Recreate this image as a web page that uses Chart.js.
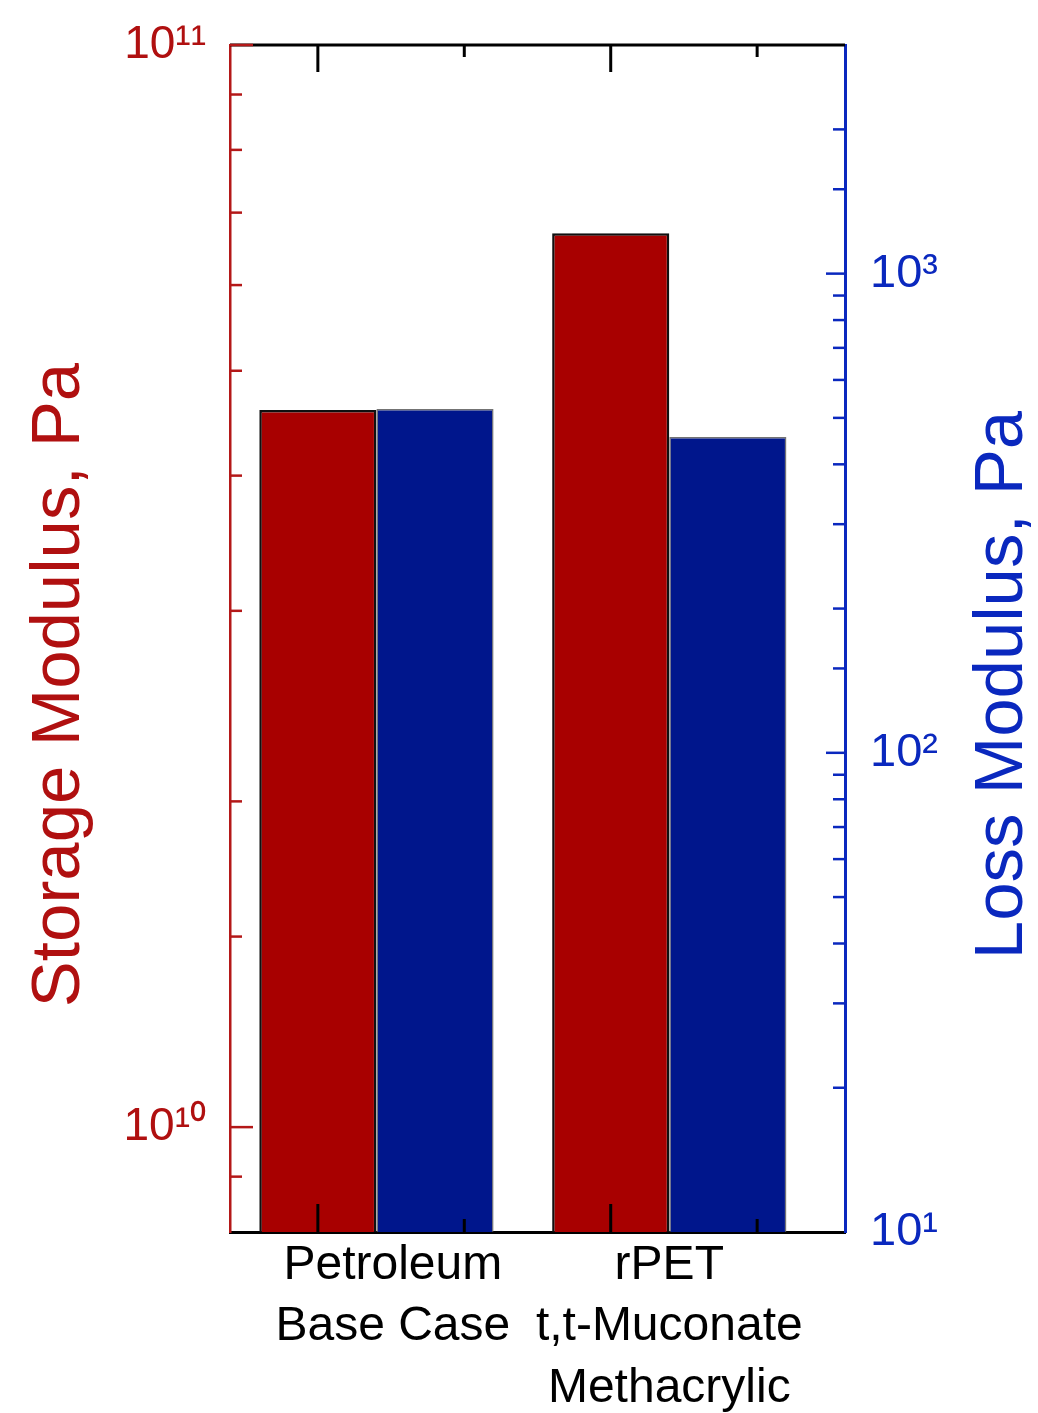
<!DOCTYPE html>
<html>
<head>
<meta charset="utf-8">
<script src="https://cdn.jsdelivr.net/npm/chart.js@4/dist/chart.umd.min.js"></script>
<style>
html,body{margin:0;padding:0;background:#fff}
#wrap{width:1038px;height:1413px;position:relative}
</style>
</head>
<body>
<div id="wrap"><canvas id="c"></canvas></div>
<script>
// ---- data ----
const categories = [['Petroleum', 'Base Case'], ['rPET', 't,t-Muconate', 'Methacrylic']];
const categoryX = [1, 2];
const storageModulus = [4.6e10, 6.7e10];   // Pa, left axis
const lossModulus = [522, 456];            // Pa, right axis
const storageDecades = [1e10, 1e11];
const storageTickLabels = ['10¹⁰', '10¹¹'];
const lossDecades = [10, 100, 1000];
const lossTickLabels = ['10¹', '10²', '10³'];
const leftTitle = 'Storage Modulus, Pa';
const rightTitle = 'Loss Modulus, Pa';

// ---- styles / layout ----
const FONT = '"Liberation Sans", Arial, Helvetica, sans-serif';
const RED_BAR = '#a80000';
const BLUE_BAR = '#00168c';
const RED_AX = '#b41818';
const RED_TX = '#b01010';
const BLUE_AX = '#0a28be';
const BLUE_TX = '#0a28be';
const LABEL_POS = [1.056, 2.0];
const X_TICKS = [{v: 0.8, major: true}, {v: 1.3, major: false}, {v: 1.8, major: true}, {v: 2.3, major: false}];

function isDecade(v) {
  const l = Math.log10(v);
  return Math.abs(l - Math.round(l)) < 1e-9;
}
function labelFor(v, decades, labels) {
  for (let i = 0; i < decades.length; i++) {
    if (Math.abs(v / decades[i] - 1) < 1e-6) return labels[i];
  }
  return '';
}
function noPad(s) { s.paddingTop = 0; s.paddingBottom = 0; s.paddingLeft = 0; s.paddingRight = 0; }

const decor = {
  id: 'decor',
  afterDatasetsDraw(chart) {
    const {ctx, chartArea: a, scales} = chart;
    const x = scales.x, yL = scales.yL, yR = scales.yR;
    const seg = (x1, y1, x2, y2) => { ctx.beginPath(); ctx.moveTo(x1, y1); ctx.lineTo(x2, y2); ctx.stroke(); };
    ctx.save();
    ctx.lineCap = 'butt';
    ctx.strokeStyle = '#000';
    ctx.lineWidth = 3;
    seg(a.left, a.top, a.right, a.top);
    X_TICKS.forEach(t => {
      const p = x.getPixelForValue(t.v);
      seg(p, a.bottom, p, a.bottom - (t.major ? 28 : 13));
      seg(p, a.top, p, a.top + (t.major ? 27 : 12));
    });
    ctx.strokeStyle = RED_AX;
    ctx.lineWidth = 2.5;
    yL.ticks.forEach(t => {
      if (t.value <= yL.min * 1.0001) return;
      const p = yL.getPixelForValue(t.value);
      seg(a.left, p, a.left + (isDecade(t.value) ? 23 : 12), p);
    });
    ctx.strokeStyle = BLUE_AX;
    yR.ticks.forEach(t => {
      if (t.value <= yR.min * 1.0001 || t.value >= yR.max * 0.9999) return;
      const p = yR.getPixelForValue(t.value);
      seg(a.right, p, a.right - (isDecade(t.value) ? 19 : 12), p);
    });
    ctx.restore();
  },
  afterDraw(chart) {
    const {ctx} = chart;
    const cy = 685;
    [[leftTitle, RED_TX, 79], [rightTitle, BLUE_TX, 1022]].forEach(([txt, col, bx]) => {
      ctx.save();
      ctx.font = '69px ' + FONT;
      ctx.textAlign = 'center';
      ctx.textBaseline = 'alphabetic';
      ctx.fillStyle = col;
      ctx.translate(bx, cy);
      ctx.rotate(-Math.PI / 2);
      ctx.fillText(txt, 0, 0);
      ctx.restore();
    });
  }
};

new Chart(document.getElementById('c'), {
  type: 'bar',
  data: {
    datasets: [
      {
        label: 'Storage Modulus',
        data: categoryX.map((xv, i) => ({x: xv, y: storageModulus[i]})),
        xAxisID: 'x', yAxisID: 'yL',
        backgroundColor: RED_BAR,
        borderColor: '#101010',
        borderWidth: 2.5,
        categoryPercentage: 0.8,
        barPercentage: 1.0
      },
      {
        label: 'Loss Modulus',
        data: categoryX.map((xv, i) => ({x: xv, y: lossModulus[i]})),
        xAxisID: 'x', yAxisID: 'yR',
        backgroundColor: BLUE_BAR,
        borderColor: 'rgba(90,90,90,0.85)',
        borderWidth: 1.5,
        categoryPercentage: 0.8,
        barPercentage: 1.0
      }
    ]
  },
  options: {
    responsive: true,
    maintainAspectRatio: false,
    animation: false,
    layout: {padding: {top: 45, left: 0, right: 0, bottom: 0}},
    plugins: {legend: {display: false}, tooltip: {enabled: false}},
    scales: {
      x: {
        type: 'linear',
        position: 'bottom',
        min: 0.5, max: 2.6,
        offset: false,
        grid: {display: false, drawTicks: false},
        border: {display: true, color: '#000', width: 3},
        afterBuildTicks: (s) => { s.ticks = categoryX.map(v => ({value: v})); },
        ticks: {display: false},
        afterFit: (s) => { s.height = 0; noPad(s); }
      },
      xLab: {
        type: 'linear',
        position: 'bottom',
        min: 0.5, max: 2.6,
        offset: false,
        grid: {display: false, drawTicks: false},
        border: {display: false},
        afterBuildTicks: (s) => { s.ticks = LABEL_POS.map(v => ({value: v})); },
        ticks: {
          autoSkip: false, maxRotation: 0, minRotation: 0,
          padding: 3,
          color: '#000',
          font: {family: FONT, size: 48, lineHeight: 1.28},
          callback: (v, i) => categories[i]
        },
        afterFit: (s) => { s.height = 181; noPad(s); }
      },
      yL: {
        type: 'logarithmic',
        position: 'left',
        min: 8e9, max: 1e11,
        grid: {display: false, drawTicks: false},
        border: {display: true, color: RED_AX, width: 2.5},
        ticks: {
          autoSkip: false, padding: 24,
          color: RED_TX,
          font: {family: FONT, size: 46},
          callback: (v) => labelFor(v, storageDecades, storageTickLabels)
        },
        afterFit: (s) => { s.width = 230; noPad(s); }
      },
      yR: {
        type: 'logarithmic',
        position: 'right',
        min: 10, max: 3000,
        grid: {display: false, drawTicks: false},
        border: {display: true, color: BLUE_AX, width: 3},
        ticks: {
          autoSkip: false, padding: 25,
          color: BLUE_TX,
          font: {family: FONT, size: 47},
          callback: (v) => labelFor(v, lossDecades, lossTickLabels)
        },
        afterFit: (s) => { s.width = 193; noPad(s); }
      }
    }
  },
  plugins: [decor]
});
</script>
</body>
</html>
